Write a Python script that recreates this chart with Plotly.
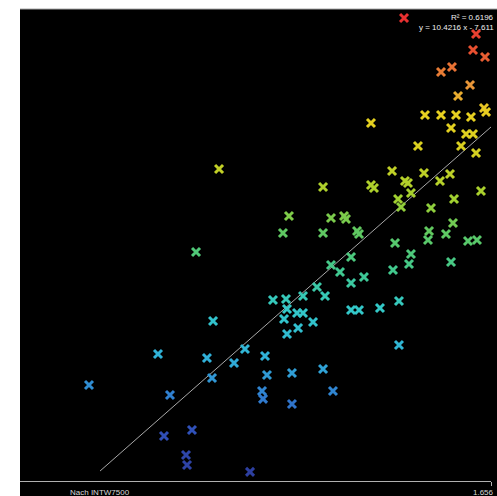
import plotly.graph_objects as go

# Measurements: x = Nach INTW7500, y = response value
x_vals = [
    1.5718, 1.6415, 1.6386, 1.6502, 1.6182, 1.6076, 1.6357, 1.6241,
    1.5921, 1.6076, 1.6221, 1.6366, 1.6492, 1.6512, 1.6173, 1.6318, 1.6386,
    1.5853, 1.6270, 1.6415, 1.5398, 1.5602, 1.5911, 1.6163, 1.5727, 1.5756,
    1.6066, 1.6463, 1.5785, 1.5660, 1.6202, 1.5689, 1.5979, 1.4934, 1.5398,
    1.5427, 1.3927,
    1.6192, 1.5960, 1.5950, 1.6124, 1.5631, 1.6337, 1.6424, 1.5785, 1.5766,
    1.6173, 1.5611, 1.4604, 1.5011, 1.5137, 1.5156, 1.5263, 1.5282, 1.4546,
    1.4934, 1.3704, 1.5205, 1.5011, 1.5098, 1.5330, 1.5205, 1.4875,
    1.4953, 1.5205, 1.5282, 1.5485, 1.5669, 1.5669, 1.4740, 1.4575, 1.4449,
    1.4585, 1.4682, 1.4740, 1.4556, 1.4837, 1.4692, 1.3869, 1.4585, 1.4178,
    1.3810, 1.4372, 1.4072, 1.3336, 1.4391, 1.4633, 1.4934, 1.3859,
    1.4343, 1.4353, 1.5030, 1.4633, 1.2668, 1.3452, 1.3394, 1.3665, 1.3607,
    1.3617, 1.4227,
]
y_vals = [
    10.897, 10.713, 10.530, 10.450, 10.335, 10.278, 10.129, 10.002,
    9.785, 9.785, 9.785, 9.762, 9.865, 9.819, 9.636, 9.567, 9.567,
    9.429, 9.429, 9.349, 9.693, 9.143, 9.120, 9.108, 9.028, 9.005,
    9.028, 8.913, 8.890, 8.822, 8.822, 8.730, 8.718, 8.959, 8.982,
    8.948, 9.165,
    8.546, 8.455, 8.351, 8.420, 8.317, 8.340, 8.351, 8.191, 8.076,
    8.099, 8.007, 8.627, 8.604, 8.627, 8.592, 8.455, 8.420, 8.432,
    8.432, 8.214, 8.157, 8.065, 7.985, 7.927, 7.858, 7.813,
    7.709, 7.549, 7.549, 7.572, 7.652, 7.148, 7.709, 7.675, 7.664,
    7.560, 7.515, 7.515, 7.446, 7.411, 7.343, 7.423, 7.274, 7.102,
    6.999, 7.021, 6.941, 7.044, 6.804, 6.827, 6.872, 6.769,
    6.620, 6.529, 6.620, 6.471, 6.689, 6.574, 6.104, 6.173, 5.886,
    5.772, 5.692,
]

# Linear fit reported on the chart
slope = 10.4216
intercept = -7.611
r_squared = 0.6196
fit_x = [1.2775, 1.656]

x_range = [1.2, 1.656]
y_range = [5.588, 11.0]
x_tick_vals = [1.656]
x_tick_text = ["1.656"]

colorscale = [
    [0.00, "#2d3fa0"],
    [0.09, "#3050b8"],
    [0.17, "#3080d0"],
    [0.25, "#30b0d8"],
    [0.36, "#33c8c8"],
    [0.44, "#40c890"],
    [0.53, "#60c860"],
    [0.60, "#a0d030"],
    [0.71, "#d8d020"],
    [0.79, "#e8d020"],
    [0.85, "#e89838"],
    [0.93, "#e85030"],
    [1.00, "#e83030"],
]
cmin, cmax = min(y_vals), max(y_vals)

fig = go.Figure()

fig.add_trace(go.Scatter(
    x=fit_x,
    y=[slope * v + intercept for v in fit_x],
    mode="lines",
    line=dict(color="#a8a8a8", width=1),
    hoverinfo="skip",
    showlegend=False,
))

fig.add_trace(go.Scatter(
    x=x_vals,
    y=y_vals,
    mode="markers",
    marker=dict(
        symbol="x-thin",
        size=8,
        color=y_vals,
        colorscale=colorscale,
        cmin=cmin,
        cmax=cmax,
        line=dict(width=3, color=y_vals, colorscale=colorscale, cmin=cmin, cmax=cmax),
    ),
    showlegend=False,
))

W, H = 497, 496
ml, mr, mt, mb = 20, 6, 9, 15
pw, ph = W - ml - mr, H - mt - mb
right_edge = (W - 1 - ml) / pw

# Black panel that runs past the plotting area to the right and bottom edges
fig.add_shape(
    type="rect", xref="paper", yref="paper",
    x0=0, x1=(W - ml) / pw, y0=-mb / ph, y1=1,
    fillcolor="black", line=dict(width=0), layer="below",
)
fig.add_shape(
    type="line", xref="paper", yref="paper",
    x0=0, x1=(W - ml) / pw, y0=1, y1=1,
    line=dict(color="#a8a8a8", width=1),
)

font = "Liberation Sans, Arial, sans-serif"
fig.add_annotation(
    text="Nach INTW7500", xref="paper", yref="paper",
    x=(68 - ml) / pw, y=(481 - 493) / ph, xanchor="left", yanchor="middle",
    showarrow=False, font=dict(family=font, size=8, color="#d8d8d8"),
)
# Tick label for the axis end, kept inside the page
fig.add_annotation(
    text=x_tick_text[0], xref="paper", yref="paper",
    x=right_edge, y=(481 - 493) / ph, xanchor="right", yanchor="middle",
    showarrow=False, font=dict(family=font, size=8, color="#d8d8d8"),
)
fig.add_annotation(
    text=f"R² = {r_squared}", xref="paper", yref="paper",
    x=right_edge, y=(481 - 18) / ph, xanchor="right", yanchor="middle",
    showarrow=False, font=dict(family=font, size=8, color="#f0f0f0"),
)
fig.add_annotation(
    text=f"y = {slope} x - {abs(intercept)}", xref="paper", yref="paper",
    x=right_edge, y=(481 - 27) / ph, xanchor="right", yanchor="middle",
    showarrow=False, font=dict(family=font, size=8, color="#f0f0f0"),
)

fig.update_layout(
    width=W, height=H,
    margin=dict(l=ml, r=mr, t=mt, b=mb, autoexpand=False),
    paper_bgcolor="white",
    plot_bgcolor="black",
    xaxis=dict(
        range=x_range, showgrid=False, zeroline=False,
        showline=True, linecolor="#b0b0b0", linewidth=1,
        ticks="outside", ticklen=4, tickcolor="#b0b0b0",
        tickvals=x_tick_vals, showticklabels=False, automargin=False,
    ),
    yaxis=dict(range=y_range, visible=False, automargin=False),
)

fig.write_html("out.html")
